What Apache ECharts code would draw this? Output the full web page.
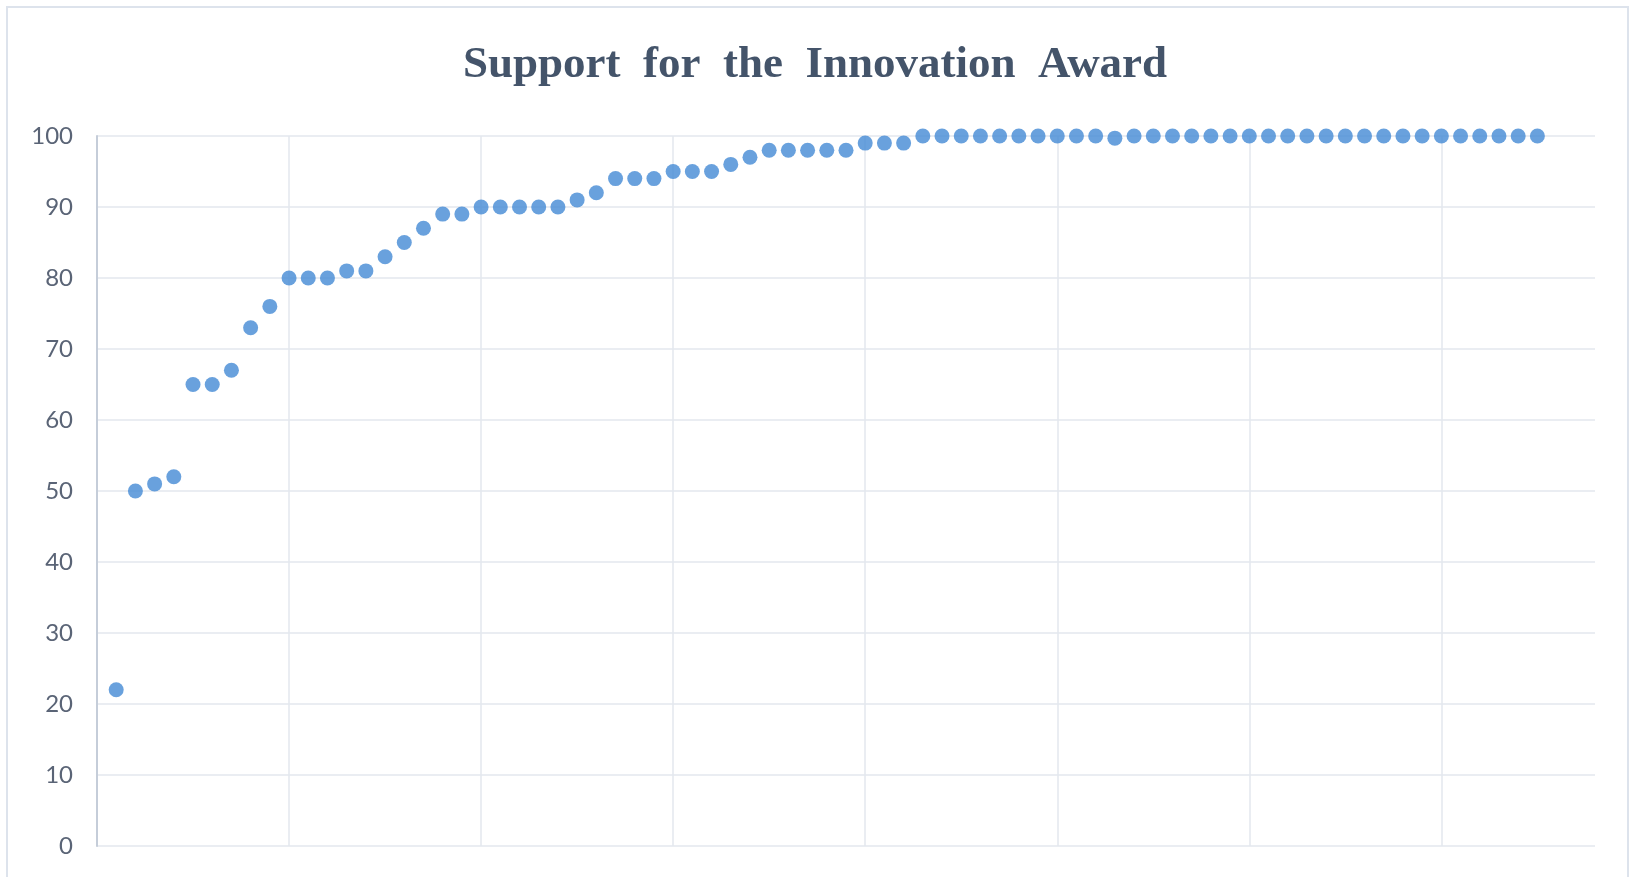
<!DOCTYPE html>
<html>
<head>
<meta charset="utf-8">
<script src="https://cdn.jsdelivr.net/npm/echarts@6/dist/echarts.min.js"></script>
<style>
html,body{margin:0;padding:0;background:#fff;}
#chart{width:1630px;height:877px;}
</style>
</head>
<body>
<div id="chart"></div>
<script>
const titleText = 'Support for the Innovation Award';
const respondents = [1,2,3,4,5,6,7,8,9,10,11,12,13,14,15,16,17,18,19,20,21,22,23,24,25,26,27,28,29,30,31,32,33,34,35,36,37,38,39,40,41,42,43,44,45,46,47,48,49,50,51,52,53,54,55,56,57,58,59,60,61,62,63,64,65,66,67,68,69,70,71,72,73,74,75];
const support = [22,50,51,52,65,65,67,73,76,80,80,80,81,81,83,85,87,89,89,90,90,90,90,90,91,92,94,94,94,95,95,95,96,97,98,98,98,98,98,99,99,99,100,100,100,100,100,100,100,100,100,100,99.7,100,100,100,100,100,100,100,100,100,100,100,100,100,100,100,100,100,100,100,100,100,100];
const yTicks = [0,10,20,30,40,50,60,70,80,90,100];

const chart = echarts.init(document.getElementById('chart'));
chart.setOption({
  backgroundColor: '#ffffff',
  animation: false,
  graphic: [{
    type: 'rect',
    shape: {x: 7, y: 7, width: 1621, height: 900},
    style: {fill: 'none', stroke: '#dde3ec', lineWidth: 2},
    silent: true
  }],
  title: {
    text: titleText.split(' ').join('  '),
    left: 'center',
    top: 38,
    textStyle: {
      fontFamily: 'Liberation Serif, DejaVu Serif, serif',
      fontSize: 45,
      fontWeight: 'bold',
      color: '#44546a'
    }
  },
  grid: {left: 97, right: 35, top: 136, bottom: 31, containLabel: false},
  xAxis: {
    type: 'value',
    min: 0,
    max: 78,
    interval: 10,
    axisLine: {show: false},
    axisTick: {show: false},
    axisLabel: {show: false},
    splitLine: {show: true, showMaxLine: false, lineStyle: {color: '#e3e7ee', width: 1.5}}
  },
  yAxis: {
    type: 'value',
    min: yTicks[0],
    max: yTicks[yTicks.length - 1],
    interval: 10,
    axisLine: {show: true, lineStyle: {color: '#c5cdd9', width: 2}},
    axisTick: {show: false},
    axisLabel: {
      margin: 24,
      fontFamily: 'Lato, Open Sans, sans-serif',
      fontSize: 24,
      color: '#5a6476'
    },
    splitLine: {show: true, lineStyle: {color: '#e3e7ee', width: 1.5}}
  },
  series: [{
    type: 'scatter',
    symbol: 'circle',
    symbolSize: 15,
    itemStyle: {color: '#4389d5'},
    data: respondents.map((r, i) => [r, support[i]])
  }]
});
</script>
</body>
</html>
